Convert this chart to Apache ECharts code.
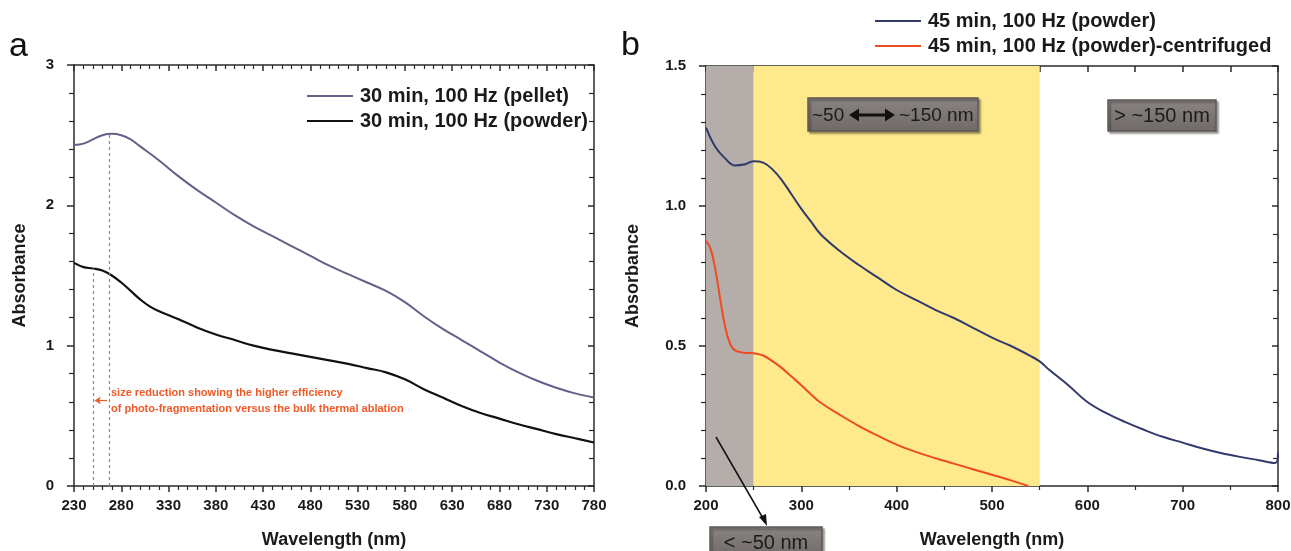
<!DOCTYPE html>
<html>
<head>
<meta charset="utf-8">
<script src="https://cdn.jsdelivr.net/npm/echarts@6/dist/echarts.min.js"></script>
<style>
  html, body { margin: 0; padding: 0; background: #fff; }
  #chart { width: 1291px; height: 551px; }
</style>
</head>
<body>
<div id="chart"></div>
<script>
// panel a: 30 min, 100 Hz
var pelletWl = [230, 240, 250, 260, 270, 280, 290, 300, 320, 340, 360, 380, 400, 420, 440, 460, 480, 500, 520, 540, 560, 580, 600, 620, 640, 660, 680, 700, 720, 740, 760, 780];
var pelletAbs = [2.43, 2.44, 2.47, 2.50, 2.51, 2.50, 2.47, 2.42, 2.32, 2.21, 2.11, 2.02, 1.93, 1.85, 1.78, 1.71, 1.64, 1.57, 1.51, 1.45, 1.39, 1.31, 1.21, 1.12, 1.04, 0.96, 0.88, 0.81, 0.75, 0.70, 0.66, 0.63];
var powderWl = [230, 240, 250, 260, 270, 280, 290, 300, 310, 320, 340, 360, 380, 400, 420, 440, 460, 480, 500, 520, 540, 560, 580, 600, 620, 640, 660, 680, 700, 720, 740, 760, 780];
var powderAbs = [1.59, 1.56, 1.55, 1.535, 1.50, 1.45, 1.39, 1.33, 1.28, 1.245, 1.19, 1.13, 1.08, 1.04, 1.00, 0.97, 0.945, 0.92, 0.895, 0.87, 0.84, 0.81, 0.76, 0.69, 0.63, 0.57, 0.52, 0.48, 0.44, 0.405, 0.37, 0.34, 0.31];
var dropLinesWl = [250, 267];
var dropLinesAbs = [1.55, 2.51];

// panel b: 45 min, 100 Hz
var powder45Wl = [200, 210, 220, 230, 240, 250, 260, 270, 280, 290, 300, 310, 320, 340, 360, 380, 400, 420, 440, 460, 480, 500, 520, 540, 550, 560, 580, 600, 620, 640, 660, 680, 700, 720, 740, 760, 780, 797, 800];
var powder45Abs = [1.28, 1.21, 1.17, 1.145, 1.148, 1.16, 1.155, 1.13, 1.09, 1.04, 0.99, 0.945, 0.90, 0.84, 0.79, 0.745, 0.70, 0.665, 0.63, 0.60, 0.565, 0.53, 0.50, 0.465, 0.445, 0.415, 0.36, 0.30, 0.26, 0.228, 0.20, 0.175, 0.155, 0.135, 0.118, 0.104, 0.092, 0.082, 0.12];
var centWl = [200, 205, 210, 215, 220, 225, 230, 240, 250, 260, 270, 280, 290, 300, 310, 320, 340, 360, 380, 400, 420, 440, 460, 480, 500, 520, 538];
var centAbs = [0.876, 0.845, 0.77, 0.665, 0.57, 0.51, 0.485, 0.476, 0.474, 0.466, 0.445, 0.42, 0.39, 0.36, 0.328, 0.298, 0.255, 0.215, 0.18, 0.148, 0.122, 0.10, 0.08, 0.06, 0.04, 0.02, 0.0];
var sizeBands = [[200, 250, '#b5ada9'], [250, 550, '#fee98c']];

var seriesNames = ['30 min, 100 Hz (pellet)', '30 min, 100 Hz (powder)', '45 min, 100 Hz (powder)', '45 min, 100 Hz (powder)-centrifuged'];
var FONT = '"Liberation Sans", Arial, sans-serif';
var axisColor = '#2b2b2b';

function pairs(xs, ys) {
  return xs.map(function(x, i) { return [x, ys[i]]; });
}

function bottomAxis(grid, min, max, interval, minorSplit) {
  return {
    type: 'value', gridIndex: grid, position: 'bottom', min: min, max: max, interval: interval,
    name: 'Wavelength (nm)', nameLocation: 'middle', nameGap: 45,
    nameTextStyle: { fontFamily: FONT, fontWeight: 'bold', fontSize: 18, color: '#1a1a1a' },
    axisLine: { onZero: false, lineStyle: { color: axisColor, width: 1.5 } },
    axisTick: { inside: false, length: 6, lineStyle: { color: axisColor, width: 1.5 } },
    minorTick: { show: true, splitNumber: minorSplit, length: 4, lineStyle: { color: axisColor, width: 1.2 } },
    axisLabel: { fontFamily: FONT, fontWeight: 'bold', fontSize: 15, color: '#1a1a1a', margin: 12 },
    splitLine: { show: false }
  };
}
function topAxis(grid, min, max, interval, minorSplit) {
  return {
    type: 'value', gridIndex: grid, position: 'top', min: min, max: max, interval: interval,
    axisLine: { onZero: false, lineStyle: { color: axisColor, width: 1.5 } },
    axisTick: { inside: true, length: 6, lineStyle: { color: axisColor, width: 1.5 } },
    minorTick: { show: minorSplit > 1, splitNumber: minorSplit, length: 4, lineStyle: { color: axisColor, width: 1.2 } },
    axisLabel: { show: false },
    splitLine: { show: false }
  };
}
function leftAxis(grid, max, interval, digits, gap) {
  return {
    type: 'value', gridIndex: grid, position: 'left', min: 0, max: max, interval: interval,
    name: 'Absorbance', nameLocation: 'middle', nameGap: gap, nameRotate: 90,
    nameTextStyle: { fontFamily: FONT, fontWeight: 'bold', fontSize: 18, color: '#1a1a1a' },
    axisLine: { show: true, onZero: false, lineStyle: { color: axisColor, width: 1.5 } },
    axisTick: { show: true, inside: false, length: 7, lineStyle: { color: axisColor, width: 1.5 } },
    minorTick: { show: true, splitNumber: 5, length: 5, lineStyle: { color: axisColor, width: 1.2 } },
    axisLabel: { fontFamily: FONT, fontWeight: 'bold', fontSize: 15, color: '#1a1a1a', margin: 20,
      formatter: function(v) { return v.toFixed(digits); } },
    splitLine: { show: false }
  };
}
function rightAxis(grid, max, interval) {
  return {
    type: 'value', gridIndex: grid, position: 'right', min: 0, max: max, interval: interval,
    axisLine: { show: true, onZero: false, lineStyle: { color: axisColor, width: 1.5 } },
    axisTick: { show: true, inside: true, length: 6, lineStyle: { color: axisColor, width: 1.5 } },
    minorTick: { show: true, splitNumber: 5, length: 5, lineStyle: { color: axisColor, width: 1.2 } },
    axisLabel: { show: false },
    splitLine: { show: false }
  };
}
function legendAt(names, left, top) {
  return {
    data: names, orient: 'vertical', left: left, top: top, padding: 0, itemGap: 5,
    itemWidth: 46, itemHeight: 2, icon: 'rect',
    textStyle: { fontFamily: FONT, fontWeight: 'bold', fontSize: 20, color: '#1a1a1a', padding: [0, 0, 0, 2] }
  };
}

var chart = echarts.init(document.getElementById('chart'), null, { renderer: 'canvas' });
chart.setOption({
  animation: false,
  backgroundColor: '#fff',
  grid: [
    { left: 74, top: 65, width: 520, height: 421, outerBoundsMode: 'none', containLabel: false },
    { left: 706, top: 66, width: 572, height: 420, outerBoundsMode: 'none', containLabel: false }
  ],
  xAxis: [
    bottomAxis(0, 230, 780, 50, 5),
    topAxis(0, 230, 780, 50, 5),
    bottomAxis(1, 200, 800, 100, 2),
    topAxis(1, 200, 800, 50, 1)
  ],
  yAxis: [
    leftAxis(0, 3, 1, 0, 45),
    rightAxis(0, 3, 1),
    leftAxis(1, 1.5, 0.5, 1, 64),
    rightAxis(1, 1.5, 0.5)
  ],
  legend: [
    legendAt(seriesNames.slice(0, 2), 307, 86),
    legendAt(seriesNames.slice(2), 875, 11)
  ],
  series: [
    {
      name: seriesNames[0], type: 'line', xAxisIndex: 0, yAxisIndex: 0,
      data: pairs(pelletWl, pelletAbs), smooth: 0.4, showSymbol: false,
      lineStyle: { color: '#6a5d8a', width: 2 }, itemStyle: { color: '#6a5d8a' },
      markLine: {
        silent: true, symbol: 'none', label: { show: false },
        lineStyle: { color: '#8a8a8a', type: [3, 3], width: 1.2 },
        data: dropLinesWl.map(function(w, i) { return [{ coord: [w, 0] }, { coord: [w, dropLinesAbs[i]] }]; })
      }
    },
    {
      name: seriesNames[1], type: 'line', xAxisIndex: 0, yAxisIndex: 0,
      data: pairs(powderWl, powderAbs), smooth: 0.4, showSymbol: false,
      lineStyle: { color: '#111111', width: 2.2 }, itemStyle: { color: '#111111' },
      markLine: {
        silent: true, symbol: ['none', 'arrow'], symbolSize: 6, label: { show: false },
        lineStyle: { color: '#f05a28', type: 'solid', width: 1.2 },
        data: [[{ coord: [265, 0.61] }, { coord: [252, 0.61] }]]
      }
    },
    {
      name: seriesNames[2], type: 'line', xAxisIndex: 2, yAxisIndex: 2,
      data: pairs(powder45Wl, powder45Abs), smooth: 0.4, showSymbol: false, z: 3,
      lineStyle: { color: '#323a6c', width: 2 }, itemStyle: { color: '#323a6c' },
      markArea: {
        silent: true,
        data: sizeBands.map(function(b) {
          return [{ xAxis: b[0], yAxis: 0, itemStyle: { color: b[2], opacity: 1 } }, { xAxis: b[1], yAxis: 1.5 }];
        })
      }
    },
    {
      name: seriesNames[3], type: 'line', xAxisIndex: 2, yAxisIndex: 2,
      data: pairs(centWl, centAbs), smooth: 0.4, showSymbol: false, z: 3,
      lineStyle: { color: '#ee4b22', width: 2 }, itemStyle: { color: '#ee4b22' }
    }
  ]
});

// annotations: panel letters, note, size-range boxes (z on every child, groups don't pass it down)
function boxRect(w, h) {
  return { type: 'rect', z: 20, shape: { x: 0, y: 0, width: w, height: h },
    style: { fill: new echarts.graphic.LinearGradient(0, 0, 0, 1, [
      { offset: 0, color: '#8a8583' }, { offset: 1, color: '#6f6a68' }]), stroke: '#5d5856', lineWidth: 1.5,
      shadowColor: 'rgba(0,0,0,0.35)', shadowOffsetX: 2, shadowOffsetY: 2, shadowBlur: 2 } };
}
function boxText(x, y, label, align, size) {
  return { type: 'text', z: 21, x: x, y: y,
    style: { text: label, fill: '#1b1b1b', font: (size || 20) + 'px ' + FONT, align: align, verticalAlign: 'middle' } };
}
chart.setOption({
  graphic: [
    { id: 'la', type: 'text', x: 9, y: 64, style: { text: 'a', fill: '#111', font: '34px ' + FONT, verticalAlign: 'bottom' } },
    { id: 'lb', type: 'text', x: 621, y: 63, style: { text: 'b', fill: '#111', font: '34px ' + FONT, verticalAlign: 'bottom' } },
    { id: 'note', type: 'text', x: 111, y: 385, z: 10,
      style: { text: 'size reduction showing the higher efficiency\nof photo-fragmentation versus the bulk thermal ablation',
        fill: '#f05a28', font: 'bold 11px ' + FONT, lineHeight: 16 } },
    { id: 'boxMid', type: 'group', x: 808, y: 98, children: [
      boxRect(170, 33),
      boxText(4, 17.5, '~50', 'left', 19),
      { type: 'rect', z: 21, shape: { x: 49, y: 15.5, width: 30, height: 3 }, style: { fill: '#111' } },
      { type: 'polygon', z: 21, shape: { points: [[41, 17], [51, 10.5], [51, 23.5]] }, style: { fill: '#111' } },
      { type: 'polygon', z: 21, shape: { points: [[87, 17], [77, 10.5], [77, 23.5]] }, style: { fill: '#111' } },
      boxText(91, 17.5, '~150 nm', 'left', 19)
    ] },
    { id: 'boxHigh', type: 'group', x: 1108, y: 100, children: [
      boxRect(108, 31), boxText(54, 16.5, '> ~150 nm', 'center')
    ] },
    { id: 'boxLow', type: 'group', x: 710, y: 527, children: [
      boxRect(112, 30), boxText(56, 16, '< ~50 nm', 'center')
    ] },
    { id: 'arrLine', type: 'line', z: 21, shape: { x1: 716, y1: 437, x2: 764, y2: 520 }, style: { stroke: '#111', lineWidth: 1.5 } },
    { id: 'arrHead', type: 'polygon', z: 21, shape: { points: [[767, 526], [759, 517], [766, 514]] }, style: { fill: '#111' } }
  ]
});
window.addEventListener('resize', function() { chart.resize(); });
</script>
</body>
</html>
